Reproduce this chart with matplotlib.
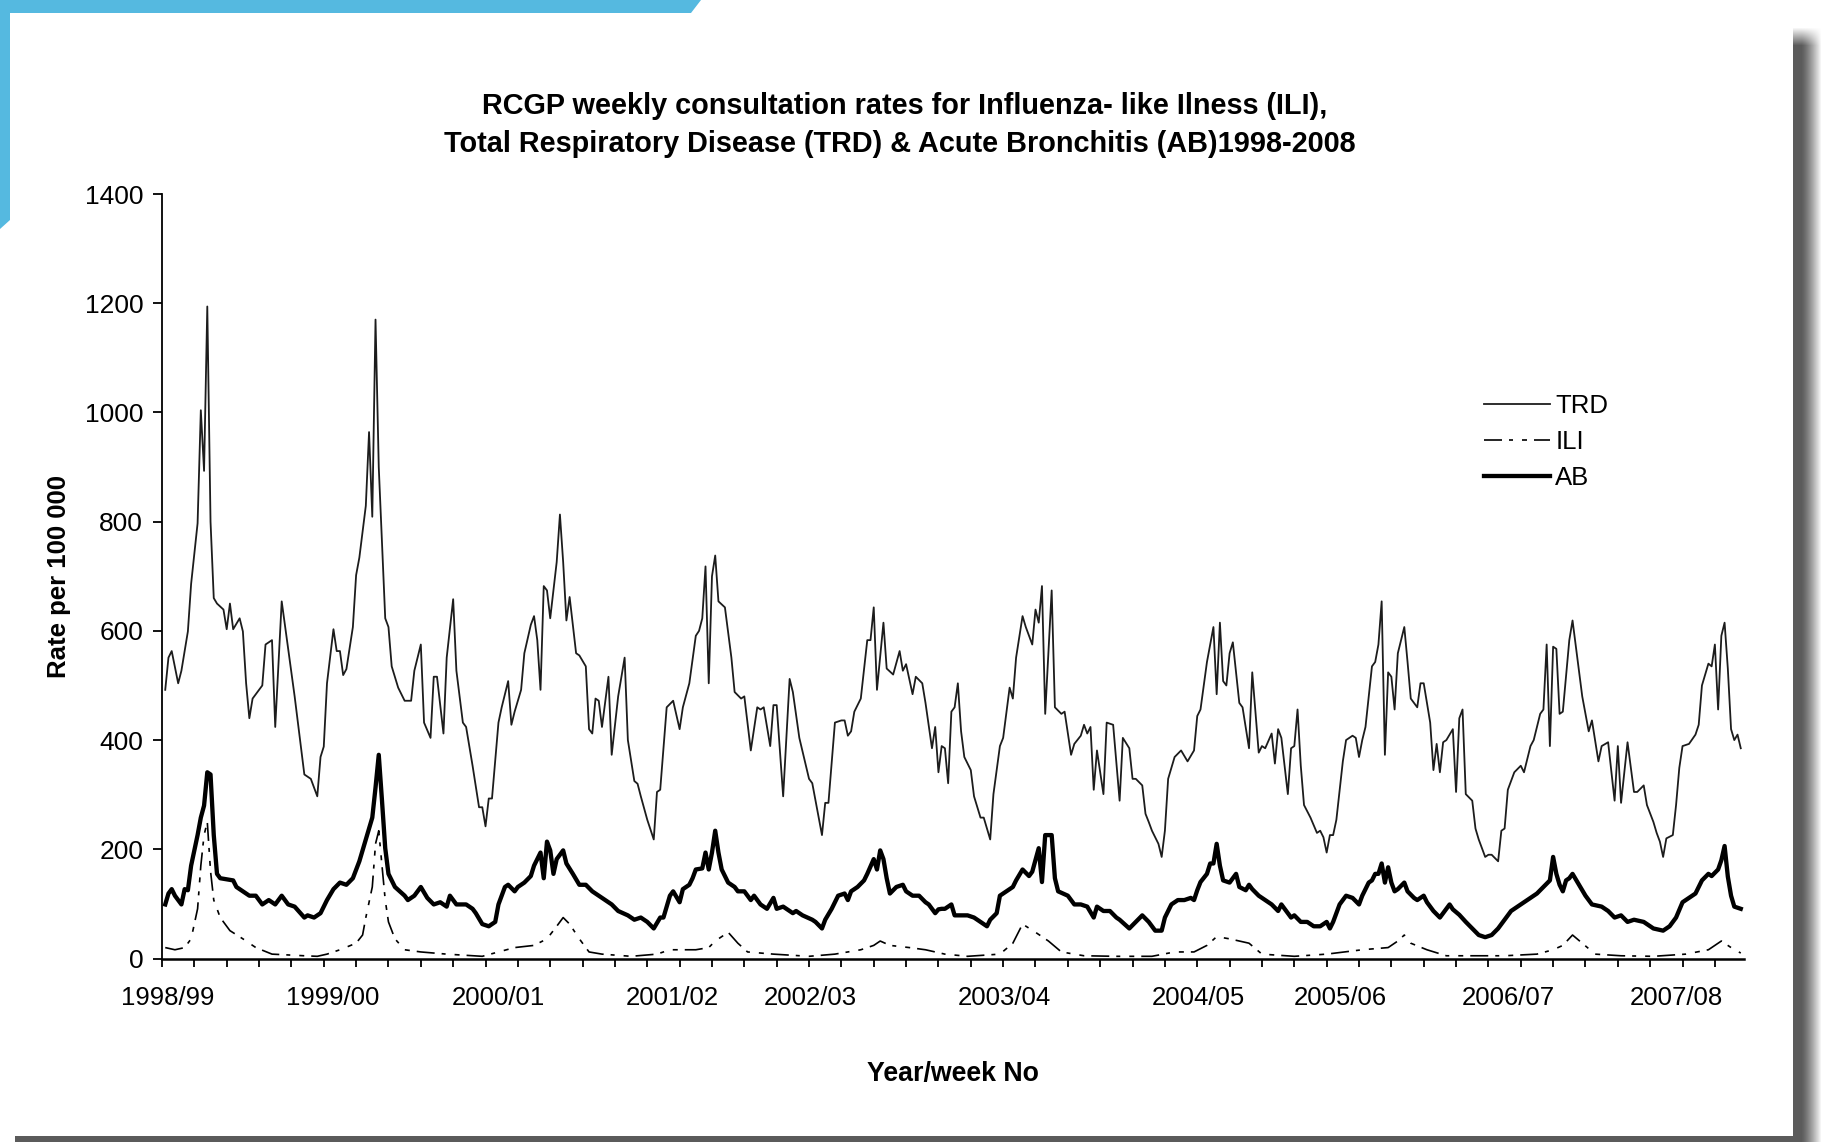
import numpy as np
import matplotlib.pyplot as plt
from matplotlib.patches import Polygon, Rectangle

plt.rcParams['font.family'] = ['Liberation Sans', 'DejaVu Sans']

# weekly consultation rates per 100 000 (week index from start of 1998/99 season)
trd_week = [1, 2, 3, 5, 6, 8, 9, 11, 12, 13, 14, 15, 16, 17, 19, 20, 21, 22, 24, 25,
            26, 27, 28, 31, 32, 34, 35, 37, 39, 41, 44, 46, 48, 49, 50, 51, 53, 54, 55, 56,
            57, 59, 60, 61, 63, 64, 65, 66, 67, 69, 70, 71, 73, 75, 77, 78, 80, 81, 83, 84,
            85, 87, 88, 90, 91, 93, 94, 96, 98, 99, 100, 101, 102, 104, 105, 107, 108, 109, 111, 112,
            114, 115, 116, 117, 118, 119, 120, 122, 123, 124, 125, 126, 128, 129, 131, 132, 133, 134, 135, 136,
            138, 139, 141, 143, 144, 146, 147, 148, 150, 152, 153, 154, 156, 158, 160, 161, 163, 165, 166, 167,
            168, 169, 170, 171, 172, 174, 176, 177, 179, 180, 182, 184, 185, 186, 188, 189, 190, 192, 194, 195,
            197, 200, 201, 204, 205, 206, 208, 210, 211, 212, 213, 214, 216, 218, 219, 220, 221, 223, 224, 226,
            228, 229, 230, 232, 233, 235, 236, 238, 239, 240, 241, 242, 243, 244, 245, 246, 247, 248, 250, 251,
            253, 254, 256, 257, 259, 260, 262, 263, 264, 266, 267, 269, 270, 271, 272, 273, 275, 276, 278, 279,
            281, 282, 284, 285, 286, 287, 288, 289, 291, 292, 294, 296, 297, 299, 300, 301, 303, 304, 305, 306,
            308, 309, 310, 311, 313, 315, 317, 319, 320, 321, 323, 325, 326, 327, 328, 329, 330, 331, 333, 334,
            336, 337, 339, 340, 341, 343, 344, 345, 346, 348, 349, 350, 351, 352, 353, 355, 357, 358, 359, 360,
            361, 362, 363, 365, 366, 368, 369, 370, 371, 372, 374, 375, 376, 377, 378, 379, 380, 381, 382, 384,
            385, 386, 388, 389, 390, 392, 393, 394, 395, 396, 397, 399, 400, 401, 402, 403, 405, 406, 407, 409,
            410, 411, 413, 414, 415, 416, 418, 420, 421, 423, 424, 426, 427, 428, 429, 430, 431, 432, 433, 435,
            436, 438, 439, 441, 442, 444, 445, 447, 449, 450, 451, 453, 455, 456, 458, 459, 461, 462, 463, 464,
            465, 467, 468, 469, 470, 472, 474, 475, 476, 478, 479, 480, 481, 482, 483, 484, 485, 486, 487, 488]
trd_rate = [492, 551, 563, 504, 527, 599, 686, 797, 1004, 893, 1194, 800, 660, 650, 639, 603, 650, 603, 623, 599,
            504, 440, 476, 500, 575, 583, 424, 654, 567, 480, 337, 329, 297, 369, 388, 504, 603, 563, 563, 519,
            530, 607, 702, 734, 829, 964, 809, 1170, 900, 623, 607, 535, 496, 472, 472, 527, 575, 432, 404, 516,
            516, 412, 551, 658, 527, 432, 424, 353, 277, 277, 242, 293, 293, 432, 460, 508, 428, 452, 492, 559,
            611, 627, 583, 492, 682, 674, 623, 726, 813, 726, 619, 662, 559, 555, 535, 420, 412, 476, 472, 424,
            516, 373, 480, 551, 400, 325, 320, 297, 254, 218, 305, 309, 460, 472, 420, 460, 504, 591, 600, 623,
            718, 504, 700, 738, 654, 643, 551, 488, 476, 480, 381, 460, 456, 460, 389, 464, 464, 297, 512, 488,
            404, 329, 321, 226, 285, 285, 432, 436, 436, 408, 416, 452, 476, 583, 583, 643, 492, 615, 531, 520,
            563, 527, 539, 484, 516, 504, 468, 385, 424, 341, 389, 385, 321, 452, 460, 504, 416, 369, 345, 297,
            258, 258, 218, 301, 389, 404, 496, 476, 551, 627, 607, 575, 639, 615, 682, 448, 674, 460, 448, 452,
            373, 393, 408, 428, 412, 424, 309, 381, 301, 432, 428, 289, 404, 385, 329, 329, 317, 265, 250, 234,
            210, 186, 234, 329, 369, 381, 361, 381, 444, 456, 543, 607, 484, 615, 508, 500, 559, 579, 468, 460,
            385, 524, 377, 389, 385, 412, 357, 420, 404, 301, 385, 389, 456, 353, 281, 258, 230, 234, 222, 194,
            226, 226, 254, 361, 400, 408, 404, 369, 400, 424, 535, 543, 575, 654, 373, 524, 516, 456, 559, 607,
            543, 476, 460, 504, 504, 432, 345, 393, 341, 396, 400, 420, 305, 440, 456, 301, 289, 238, 218, 186,
            190, 190, 178, 234, 238, 309, 341, 353, 341, 389, 400, 448, 456, 575, 389, 571, 567, 448, 452, 583,
            619, 527, 480, 416, 436, 361, 389, 396, 289, 389, 285, 396, 305, 305, 317, 281, 250, 230, 214, 186,
            220, 226, 281, 349, 389, 393, 410, 428, 500, 540, 535, 575, 456, 591, 615, 531, 420, 400, 410, 385]

ab_week = [1, 2, 3, 4, 5, 6, 7, 8, 9, 11, 12, 13, 14, 15, 16, 17, 18, 20, 22, 23,
           25, 27, 29, 31, 33, 35, 37, 39, 41, 44, 45, 47, 49, 51, 53, 55, 57, 59, 61, 63,
           65, 66, 67, 68, 69, 70, 72, 75, 76, 78, 80, 82, 84, 86, 88, 89, 91, 94, 96, 97,
           99, 101, 103, 104, 106, 107, 109, 110, 112, 114, 115, 117, 118, 119, 120, 121, 122, 124, 125, 127,
           129, 131, 133, 135, 137, 139, 141, 144, 146, 148, 150, 152, 154, 155, 157, 158, 160, 161, 163, 164,
           165, 167, 168, 169, 170, 171, 172, 173, 175, 177, 178, 180, 182, 183, 185, 187, 189, 190, 192, 195,
           196, 198, 201, 202, 204, 205, 207, 209, 211, 212, 213, 215, 217, 218, 220, 221, 222, 223, 224, 225,
           227, 229, 230, 232, 234, 236, 237, 239, 240, 241, 242, 244, 245, 247, 249, 251, 253, 255, 256, 258,
           259, 261, 263, 264, 266, 268, 269, 271, 272, 273, 275, 276, 277, 280, 282, 284, 286, 288, 289, 291,
           293, 295, 296, 299, 301, 303, 305, 307, 309, 310, 312, 314, 316, 318, 319, 320, 321, 323, 324, 325,
           326, 327, 328, 330, 332, 333, 335, 336, 337, 339, 341, 343, 345, 346, 349, 350, 352, 354, 356, 358,
           360, 361, 362, 364, 366, 368, 370, 371, 373, 374, 375, 376, 377, 378, 379, 380, 381, 382, 384, 385,
           387, 388, 390, 391, 393, 395, 396, 398, 399, 401, 403, 405, 407, 409, 411, 413, 415, 417, 419, 421,
           423, 425, 427, 429, 430, 431, 432, 433, 434, 435, 436, 438, 440, 442, 445, 447, 449, 451, 453, 455,
           458, 461, 464, 466, 468, 470, 472, 474, 476, 478, 479, 481, 482, 483, 484, 485, 486, 488]
ab_rate = [99, 119, 127, 115, 107, 99, 127, 125, 170, 226, 258, 280, 341, 337, 226, 155, 147, 145, 143, 131,
           123, 115, 115, 99, 107, 99, 115, 99, 95, 75, 79, 75, 83, 107, 127, 139, 135, 147, 178, 218,
           258, 313, 373, 289, 202, 155, 131, 115, 107, 115, 131, 111, 99, 103, 95, 115, 99, 99, 91, 83,
           63, 59, 67, 99, 131, 135, 123, 131, 139, 151, 170, 194, 147, 214, 198, 155, 182, 198, 174, 155,
           135, 135, 123, 115, 107, 99, 87, 79, 71, 75, 67, 55, 75, 75, 115, 123, 103, 127, 135, 147,
           163, 165, 194, 163, 194, 234, 194, 163, 139, 131, 123, 123, 107, 115, 99, 91, 111, 91, 95, 83,
           87, 79, 71, 67, 55, 71, 91, 115, 119, 107, 123, 131, 143, 155, 182, 163, 198, 182, 147, 119,
           131, 135, 123, 115, 115, 103, 99, 83, 90, 91, 91, 99, 79, 79, 79, 75, 67, 59, 71, 83,
           115, 123, 131, 143, 163, 151, 159, 202, 140, 226, 226, 147, 123, 115, 99, 99, 95, 75, 95, 87,
           87, 75, 71, 55, 67, 79, 67, 51, 51, 75, 99, 107, 107, 111, 107, 125, 140, 155, 174, 174,
           210, 170, 143, 139, 155, 131, 125, 135, 127, 115, 107, 99, 87, 99, 75, 79, 67, 67, 59, 59,
           67, 55, 67, 99, 115, 111, 99, 115, 139, 143, 155, 155, 174, 139, 167, 139, 123, 127, 139, 123,
           111, 107, 115, 103, 87, 75, 83, 99, 90, 80, 67, 55, 43, 39, 43, 55, 71, 87, 95, 103,
           111, 119, 131, 143, 186, 155, 135, 123, 143, 147, 155, 135, 115, 99, 95, 87, 75, 79, 67, 71,
           67, 55, 51, 59, 75, 103, 111, 119, 143, 155, 151, 163, 180, 206, 150, 115, 95, 91]

ili_week = [1, 4, 7, 9, 11, 12, 13, 14, 15, 16, 18, 21, 25, 29, 34, 44, 48, 51, 55, 60,
            62, 63, 65, 66, 67, 68, 69, 70, 72, 75, 80, 88, 99, 104, 109, 115, 119, 122, 124, 126,
            129, 132, 136, 145, 153, 157, 165, 169, 171, 175, 178, 181, 189, 200, 208, 216, 220, 222, 225, 231,
            236, 242, 249, 259, 263, 266, 270, 274, 278, 285, 295, 306, 313, 319, 323, 326, 330, 336, 340, 350,
            360, 371, 379, 382, 384, 386, 391, 397, 415, 425, 430, 433, 436, 439, 443, 451, 461, 471, 478, 482,
            485, 488]
ili_rate = [20, 16, 20, 36, 91, 170, 226, 250, 160, 107, 75, 51, 36, 20, 8, 5, 4, 8, 16, 28,
            43, 75, 131, 210, 234, 170, 107, 67, 36, 16, 12, 8, 4, 12, 20, 24, 36, 59, 75, 63,
            36, 12, 8, 4, 8, 16, 16, 20, 32, 48, 28, 12, 8, 4, 8, 16, 24, 32, 24, 20,
            16, 8, 4, 8, 28, 63, 48, 32, 12, 5, 4, 4, 12, 12, 24, 40, 36, 28, 8, 4,
            8, 16, 20, 32, 43, 28, 16, 5, 5, 8, 16, 24, 43, 28, 8, 5, 4, 8, 16, 32,
            20, 10]

season_pos = [1.9, 52.8, 104.1, 157.7, 200.3, 260.3, 320.4, 364.3, 416.1, 468.2]
season_labels = ['1998/99', '1999/00', '2000/01', '2001/02', '2002/03',
                 '2003/04', '2004/05', '2005/06', '2006/07', '2007/08']

W, H = 1844, 1142
fig = plt.figure(figsize=(W / 100, H / 100), dpi=100)
fig.patch.set_facecolor('white')


def fx(x):
    return x / W


def fy(y):
    return 1 - y / H


# blue corner bars
fig.add_artist(Polygon([(fx(0), fy(0)), (fx(701), fy(0)), (fx(691), fy(13)), (fx(10), fy(13)),
                        (fx(10), fy(220)), (fx(0), fy(229))],
                       closed=True, transform=fig.transFigure, facecolor='#55b9e0', edgecolor='none'))

# page shadow on the right and along the bottom
sh_h, sh_w = H - 27, 30
d = np.arange(sh_w)
grey = 0.36 + 0.64 * np.clip((d - 8) / 20.0, 0, 1) ** 1.3
shadow = np.ones((sh_h, sh_w, 3)) * grey[None, :, None]
fade = np.clip(np.arange(sh_h) / 18.0, 0, 1)[:, None, None]
shadow = 1 - (1 - shadow) * fade
fig.figimage(shadow, xo=1793, yo=0, origin='upper')
fig.add_artist(Rectangle((fx(15), 0), fx(1795) - fx(15), 6 / H, transform=fig.transFigure,
                         facecolor='#5b5b5b', edgecolor='none'))

ax = fig.add_axes([fx(162), fy(958.5), fx(1744) - fx(162), fy(194) - fy(958.5)])
ax.patch.set_alpha(0)

ax.plot(trd_week, trd_rate, color='#1c1c1c', lw=1.3, label='TRD')
ili_line, = ax.plot(ili_week, ili_rate, color='black', lw=1.2, label='ILI')
ili_line.set_dashes([10.8, 4.2, 2.4, 5.4, 3.0, 4.2])
ax.plot(ab_week, ab_rate, color='black', lw=3.1, label='AB')

ax.set_xlim(0, 489)
ax.set_ylim(0, 1400)
for side in ['top', 'right']:
    ax.spines[side].set_visible(False)
ax.spines['left'].set_linewidth(1.3)
ax.spines['bottom'].set_linewidth(1.8)

ax.set_yticks(range(0, 1401, 200))
ax.tick_params(axis='y', direction='out', length=6.5, width=1.3, pad=7, labelsize=19)
ax.set_xticks(range(0, 481, 10), minor=True)
ax.set_xticks(season_pos, season_labels)
ax.tick_params(axis='x', which='minor', direction='out', length=6, width=1.3)
ax.tick_params(axis='x', which='major', length=0, pad=20, labelsize=18.5)

fig.text(fx(905), fy(106.5), 'RCGP weekly consultation rates for Influenza- like Ilness (ILI),',
         ha='center', va='center', fontsize=20.8, fontweight='bold')
fig.text(fx(900), fy(144), 'Total Respiratory Disease (TRD) & Acute Bronchitis (AB)1998-2008',
         ha='center', va='center', fontsize=20.8, fontweight='bold')
fig.text(fx(58.8), fy(576), 'Rate per 100 000', rotation=90, ha='center', va='center',
         fontsize=18.5, fontweight='bold')
fig.text(fx(953), fy(1073.7), 'Year/week No', ha='center', va='center',
         fontsize=19.3, fontweight='bold')

ax.legend(loc='upper left', bbox_to_anchor=(fx(1484), fy(394)), bbox_transform=fig.transFigure,
          frameon=False, fontsize=18.5, handlelength=2.57, handletextpad=0.2,
          labelspacing=0.47, borderpad=0, borderaxespad=0)

fig.savefig('out.png', dpi=100)
